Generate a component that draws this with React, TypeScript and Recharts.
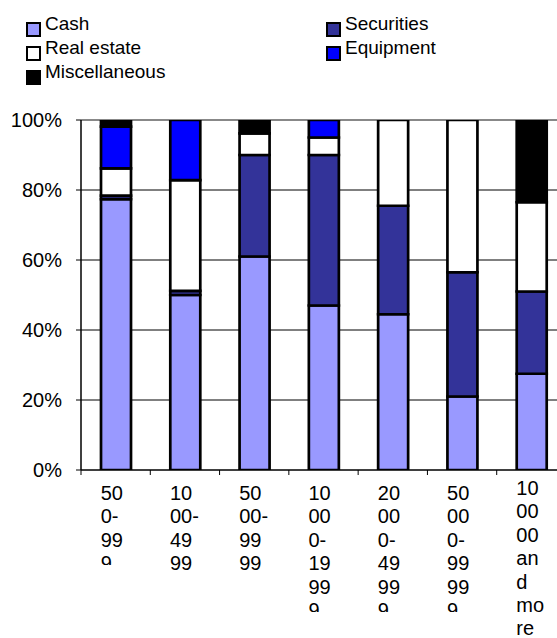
import React from 'react';
import { BarChart, Bar, XAxis, YAxis, CartesianGrid, Legend } from 'recharts';

// ---- data ----
const categories = ['500-999', '1000-4999', '5000-9999', '10000-19999', '20000-49999', '50000-99999', '100000 and more'];
const cash = [77.4, 50, 61, 47, 44.5, 21, 27.5];
const securities = [1, 1.2, 29, 43, 31, 35.5, 23.5];
const realEstate = [7.8, 31.6, 6.2, 5, 24.5, 43.5, 25.5];
const equipment = [11.9, 17.2, 0, 5, 0, 0, 0];
const miscellaneous = [1.9, 0, 3.8, 0, 0, 0, 23.5];
const seriesNames = ['Cash', 'Securities', 'Real estate', 'Equipment', 'Miscellaneous'];
const yTicks = [0, 0.2, 0.4, 0.6, 0.8, 1];

// ---- style / layout ----
const seriesKeys = ['cash', 'securities', 'realEstate', 'equipment', 'miscellaneous'];
const seriesColors = ['#9999FF', '#333399', '#FFFFFF', '#0000FF', '#000000'];
const FONT = '"Liberation Sans", Arial, sans-serif';
const CHART_W = 600;
const CHART_H = 638;
const Y_AXIS_W = 81;
const RIGHT_MARGIN = 34;
const LEGEND_H = 120;
const X_AXIS_H = 168;
const BAND_W = (CHART_W - Y_AXIS_W - RIGHT_MARGIN) / categories.length;
const LABEL_CLIP = [95, 1000, 1000, 142, 142, 142, 1000];

const data = categories.map((c, i) => ({
  name: c,
  cash: cash[i],
  securities: securities[i],
  realEstate: realEstate[i],
  equipment: equipment[i],
  miscellaneous: miscellaneous[i],
}));

function wrapLabel(s: string): string[] {
  const segs = s.match(/[^\s-]+-?/g) || [];
  const lines: string[] = [];
  for (const seg of segs) {
    let i = 0;
    while (i < seg.length) {
      let chunk = seg.slice(i, i + 2);
      i += 2;
      if (seg[i] === '-') {
        chunk += '-';
        i++;
      }
      lines.push(chunk);
    }
  }
  return lines;
}

const XTick = (props: any) => {
  const { x, y, payload, index } = props;
  const lines = wrapLabel(String(payload.value));
  const shift = lines.length > 6 ? -5 : 0;
  const clip = LABEL_CLIP[index] ?? 1000;
  const id = `xclip-${index}`;
  return (
    <g>
      <line x1={x - BAND_W / 2} x2={x - BAND_W / 2} y1={y} y2={y + 5} stroke="#000" strokeWidth={1} />
      <clipPath id={id}>
        <rect x={x - 40} y={y + 6} width={80} height={clip - 6} />
      </clipPath>
      <text
        x={x - 15}
        y={y + 30 + shift}
        fontSize={20}
        fontFamily={FONT}
        fill="#000"
        textAnchor="start"
        clipPath={`url(#${id})`}
      >
        {lines.map((l, i) => (
          <tspan key={i} x={x - 15} dy={i === 0 ? 0 : 23.4}>
            {l}
          </tspan>
        ))}
      </text>
    </g>
  );
};

const GridLine = (props: any) => {
  const { x1, x2, y1, y2, index } = props;
  const isTop = index === yTicks.length - 1 || Math.abs(y1 - LEGEND_H) < 1;
  return (
    <line
      x1={x1}
      x2={x2}
      y1={y1}
      y2={y2}
      stroke={isTop ? '#888' : '#000'}
      strokeWidth={isTop ? 2 : 1}
    />
  );
};

const legendPos = [
  { left: 26, row: 0 },
  { left: 326, row: 0 },
  { left: 26, row: 1 },
  { left: 326, row: 1 },
  { left: 26, row: 2 },
];

const LegendContent = () => (
  <div style={{ position: 'relative', width: 557, height: LEGEND_H, fontFamily: FONT, fontSize: 19 }}>
    {seriesNames.map((n, i) => {
      const p = legendPos[i];
      return (
        <React.Fragment key={n}>
          <div
            style={{
              position: 'absolute',
              left: p.left,
              top: 22 + p.row * 24,
              width: 15,
              height: 15,
              boxSizing: 'border-box',
              border: '2px solid #000',
              background: seriesColors[i],
            }}
          />
          <div
            style={{
              position: 'absolute',
              left: p.left + 19,
              top: 12.4 + p.row * 24,
              lineHeight: '24px',
              whiteSpace: 'nowrap',
              color: '#000',
            }}
          >
            {n}
          </div>
        </React.Fragment>
      );
    })}
  </div>
);

export default function App() {
  return (
    <div style={{ position: 'fixed', left: 0, top: 0, width: 557, height: 638, overflow: 'hidden', background: '#fff' }}>
      <BarChart
        width={CHART_W}
        height={CHART_H}
        data={data}
        stackOffset="expand"
        barCategoryGap={0}
        margin={{ top: 0, right: RIGHT_MARGIN, left: 0, bottom: 0 }}
      >
        <Legend
          verticalAlign="top"
          align="left"
          height={LEGEND_H}
          wrapperStyle={{ left: 0, top: 0, width: 557, height: LEGEND_H, margin: 0, padding: 0 }}
          content={<LegendContent />}
        />
        <CartesianGrid vertical={false} horizontal={<GridLine />} />
        <XAxis
          dataKey="name"
          height={X_AXIS_H}
          interval={0}
          tickLine={false}
          tickSize={0}
          tickMargin={0}
          axisLine={{ stroke: '#000', strokeWidth: 1 }}
          tick={<XTick />}
        />
        <YAxis
          width={Y_AXIS_W}
          domain={[0, 1]}
          ticks={yTicks}
          interval={0}
          tickSize={5}
          tickMargin={14}
          tickFormatter={(v: number) => `${Math.round(v * 100)}%`}
          tick={{ fontSize: 20, fontFamily: FONT, fill: '#000' }}
          tickLine={{ stroke: '#000' }}
          axisLine={{ stroke: '#000', strokeWidth: 1.5 }}
          allowDataOverflow
        />
        {seriesKeys.map((k, i) => (
          <Bar
            key={k}
            dataKey={k}
            name={seriesNames[i]}
            stackId="a"
            fill={seriesColors[i]}
            stroke="#000"
            strokeWidth={2.7}
            barSize={30}
            isAnimationActive={false}
          />
        ))}
      </BarChart>
    </div>
  );
}
